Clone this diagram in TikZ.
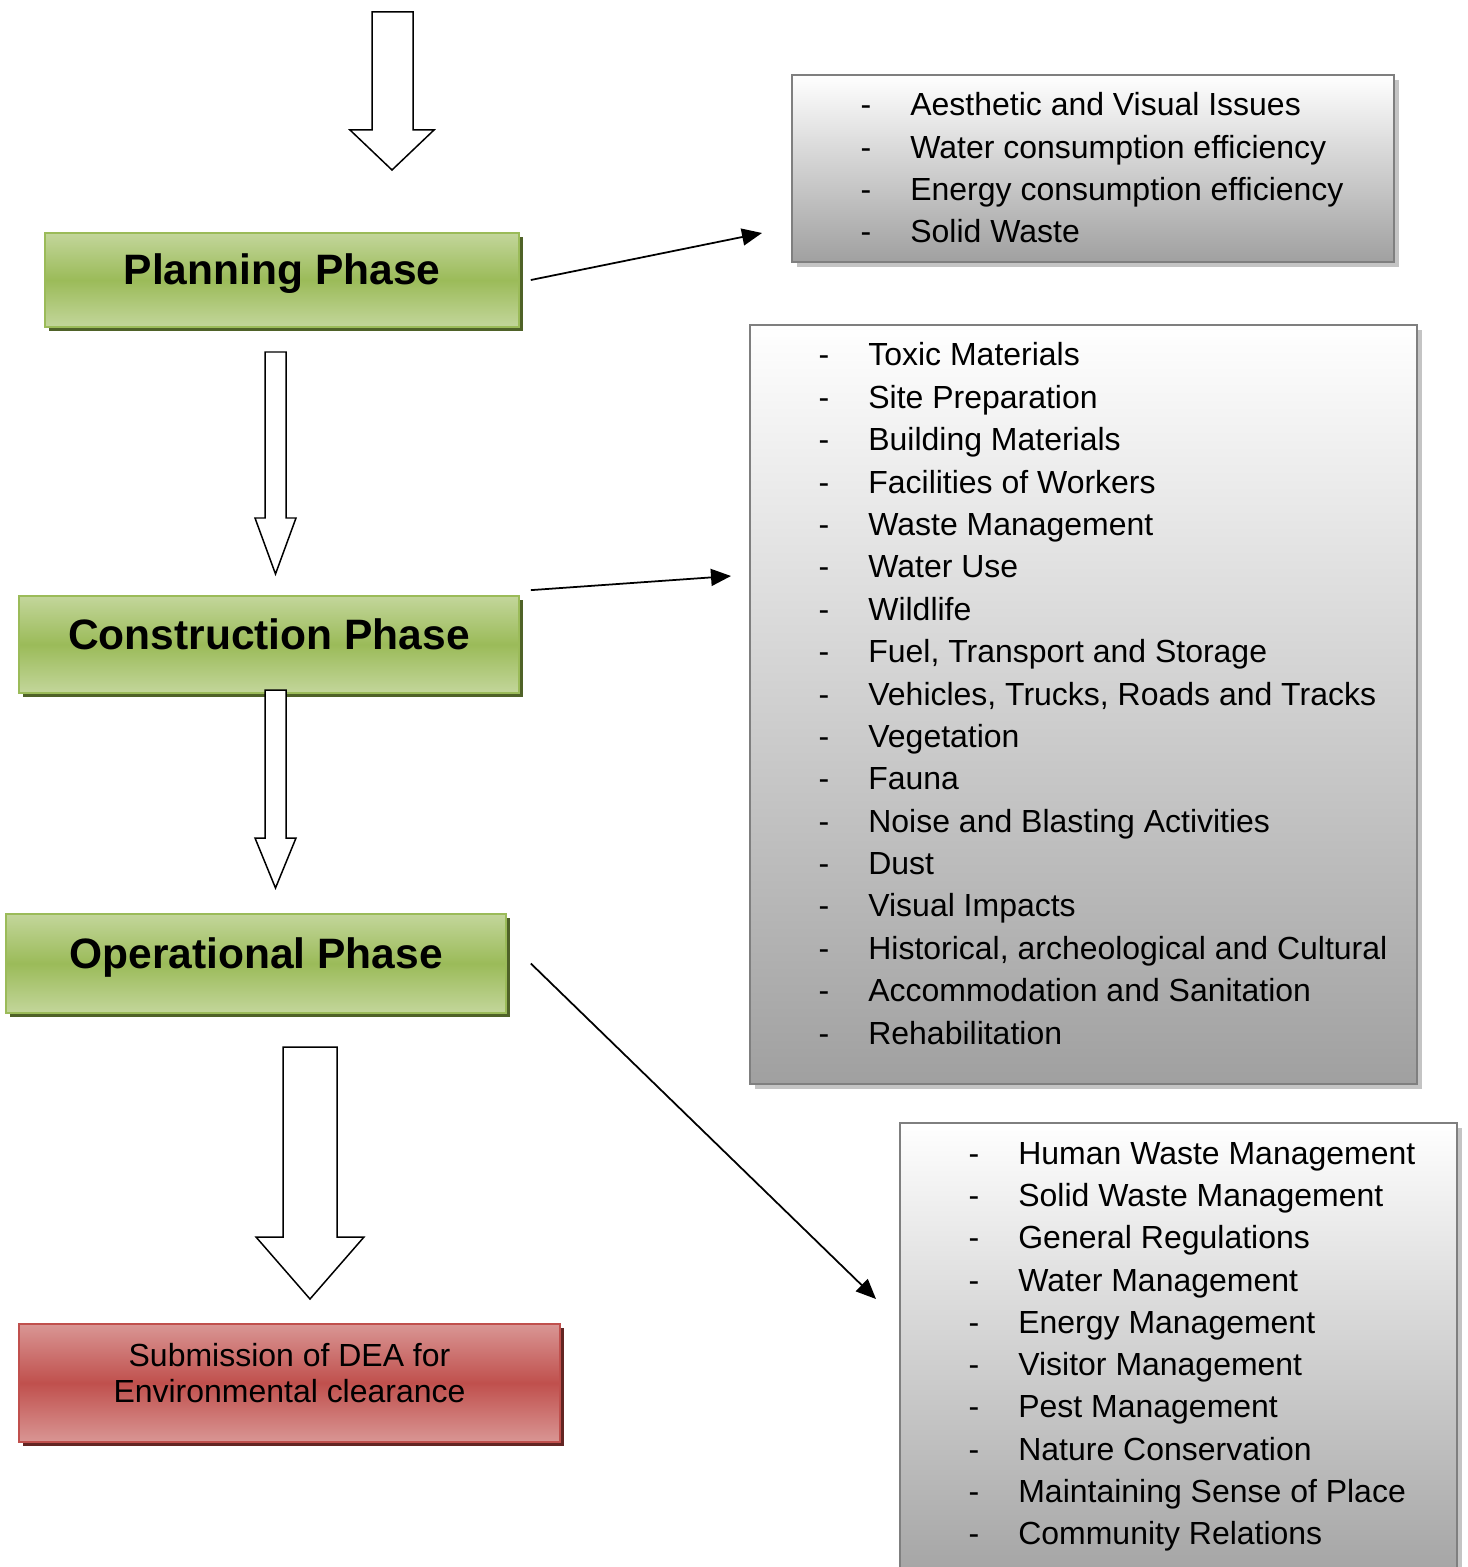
\documentclass[tikz,border=0pt]{standalone}
\usepackage{fontspec}
\setmainfont{Liberation Sans}
\usepackage{xcolor}
\usetikzlibrary{arrows.meta, shadows, positioning}

\definecolor{greenlight}{HTML}{C3D69B}
\definecolor{greenmid}{HTML}{9BBB59}
\definecolor{greenshadow}{HTML}{4F6228}
\definecolor{redlight}{HTML}{D99694}
\definecolor{redmid}{HTML}{C0504D}
\definecolor{redshadow}{HTML}{632523}
\definecolor{boxgray}{HTML}{A0A0A0}
\definecolor{boxborder}{HTML}{7F7F7F}
\definecolor{boxshadow}{HTML}{C4C4C4}

\begin{document}
\begin{tikzpicture}[x=0.02cm, y=-0.02cm]
\tikzstyle{phase} = [rectangle, draw=greenmid, line width=1pt, top color=greenlight, bottom color=greenlight, middle color=greenmid, font=\fontsize{24.2}{29}\selectfont\bfseries, text height=18pt, text depth=12.4pt, drop shadow={shadow xshift=2.2pt, shadow yshift=-2.2pt, fill=greenshadow, opacity=1}]
\tikzstyle{result} = [rectangle, draw=redmid, line width=1pt, top color=redlight, bottom color=redlight, middle color=redmid, font=\fontsize{18.2}{20.5}\selectfont, text height=25pt, text depth=22.8pt, drop shadow={shadow xshift=2.2pt, shadow yshift=-2.2pt, fill=redshadow, opacity=1}]
\tikzstyle{listbox} = [rectangle, draw=boxborder, line width=1.1pt, top color=white, bottom color=boxgray, drop shadow={shadow xshift=3pt, shadow yshift=-3pt, fill=boxshadow, opacity=1}]
\tikzstyle{item} = [anchor=base west, inner sep=0pt, font=\fontsize{18.2}{24.1}\selectfont]
\tikzstyle{blockarrow} = [draw=black, line width=0.85pt, fill=white, line join=miter]
\tikzstyle{arrow} = [line width=1pt, -{Triangle[length=0.4cm, width=0.34cm]}]

\useasboundingbox (0,0) rectangle (1467,1567);
\fill [white] (0,0) rectangle (1467,1567);

% phases
\node (plan) [phase, minimum width=9.48cm, minimum height=1.88cm] at (282,280) {Planning Phase};
\node (cons) [phase, minimum width=10cm, minimum height=1.94cm] at (269,644.5) {Construction Phase};
\node (oper) [phase, minimum width=10cm, minimum height=1.98cm] at (256,963.5) {Operational Phase};
\node (dea) [result, minimum width=10.82cm, minimum height=2.36cm] at (289.5,1383) {\begin{tabular}{@{}c@{}}Submission of DEA for\\Environmental clearance\end{tabular}};

% impact lists
\node (planbox) [listbox, minimum width=12.04cm, minimum height=3.74cm] at (1093,168.5) {};
\node (consbox) [listbox, minimum width=13.34cm, minimum height=15.18cm] at (1083.5,704.5) {};
\node (operbox) [listbox, minimum width=11.14cm, minimum height=9.5cm] at (1178.5,1360) {};

\foreach \txt [count=\i] in {Aesthetic and Visual Issues, Water consumption efficiency, Energy consumption efficiency, Solid Waste}
  \node (p\i) [item] at (910,{116+42.33*(\i-1)}) {\llap{-\hspace{0.78cm}}\txt};

\foreach \txt [count=\i] in {Toxic Materials, Site Preparation, Building Materials, Facilities of Workers, Waste Management, Water Use, Wildlife, {Fuel, Transport and Storage}, {Vehicles, Trucks, Roads and Tracks}, Vegetation, Fauna, Noise and Blasting Activities, Dust, Visual Impacts, {Historical, archeological and Cultural}, Accommodation and Sanitation, Rehabilitation}
  \node (c\i) [item] at (868,{366+42.375*(\i-1)}) {\llap{-\hspace{0.78cm}}\txt};

\foreach \txt [count=\i] in {Human Waste Management, Solid Waste Management, General Regulations, Water Management, Energy Management, Visitor Management, Pest Management, Nature Conservation, Maintaining Sense of Place, Community Relations}
  \node (o\i) [item] at (1018,{1164+42.33*(\i-1)}) {\llap{-\hspace{0.78cm}}\txt};

% block arrows
\draw [blockarrow] (372,12) -- (413,12) -- (413,130) -- (434,130) -- (392,170) -- (350,130) -- (372,130) -- cycle;
\draw [blockarrow] (265,352) -- (286,352) -- (286,518) -- (296,518) -- (275.5,574) -- (255,518) -- (265,518) -- cycle;
\draw [blockarrow] (265,690) -- (286,690) -- (286,838) -- (296,838) -- (275.5,888) -- (255,838) -- (265,838) -- cycle;
\draw [blockarrow] (283,1047) -- (337,1047) -- (337,1237) -- (364,1237) -- (310,1299) -- (256,1237) -- (283,1237) -- cycle;

% connectors
\coordinate (planend) at (762,233);
\coordinate (consend) at (731,576);
\coordinate (operend) at (876,1299);
\draw [arrow] ([xshift=0.22cm]plan.east) -- (planend);
\draw [arrow] ([xshift=0.22cm, yshift=0.1cm]cons.north east) -- (consend);
\draw [arrow] ([xshift=0.48cm]oper.east) -- (operend);

\end{tikzpicture}
\end{document}
